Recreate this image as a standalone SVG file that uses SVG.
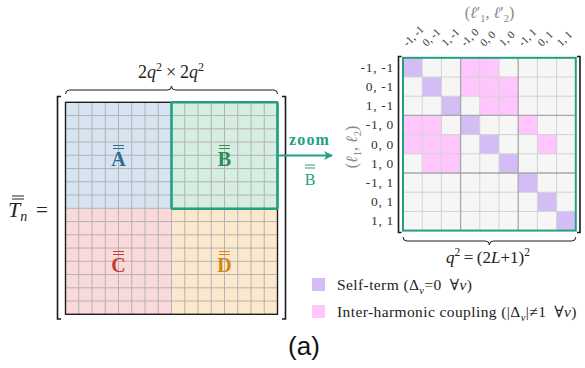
<svg xmlns="http://www.w3.org/2000/svg" width="585" height="368" viewBox="0 0 585 368">
<style>
.serif{font-family:"Liberation Serif","DejaVu Serif",serif;}
.sans{font-family:"Liberation Sans","DejaVu Sans",sans-serif;}
.grid{stroke:#b3b3b3;stroke-width:1;fill:none;}
.rgrid{stroke:#d2d2d2;stroke-width:1;fill:none;}
.rblk{stroke:#a8a8a8;stroke-width:1.3;fill:none;}
.brk{stroke:#1a1a1a;stroke-width:1.6;fill:none;}
.brace{stroke:#1a1a1a;stroke-width:1;fill:none;}
.teal{stroke:#23a084;}
.lbl{font-size:13.5px;fill:#333;letter-spacing:0.7px;}
.clbl{font-size:11px;fill:#333;}
.self{fill:#d4bcf7;}
.inter{fill:#fec6fd;}
.big{font-size:20px;font-weight:bold;}
.leg{font-size:15.5px;fill:#222;letter-spacing:0.4px;}
</style>
<defs>
<marker id="arr" markerWidth="10" markerHeight="10" refX="8" refY="5" orient="auto" markerUnits="userSpaceOnUse">
<path d="M0,0.5 L9,5 L0,9.5 L2.5,5 Z" fill="#23a084"/>
</marker>
</defs>

<!-- T_n = -->
<g id="lhs">
<line x1="12" y1="196" x2="24" y2="196" stroke="#222" stroke-width="1"/>
<line x1="12" y1="199" x2="24" y2="199" stroke="#222" stroke-width="1"/>
<text x="8" y="217" class="serif" font-size="22" font-style="italic" fill="#222">T<tspan dy="4" font-size="14">n</tspan></text>
<text x="36" y="217" class="serif" font-size="21" fill="#222">=</text>
</g>

<!-- left matrix -->
<g id="bigmatrix">
<rect x="65.5" y="102.3" width="106" height="106" fill="#d6e4f1"/>
<rect x="171.5" y="102.3" width="106" height="106" fill="#d6ede1"/>
<rect x="65.5" y="208.3" width="106" height="106" fill="#f9d9d9"/>
<rect x="171.5" y="208.3" width="106" height="106" fill="#fce9cd"/>
<path class="grid" d="M78.75,102.3V314.3M92,102.3V314.3M105.25,102.3V314.3M118.5,102.3V314.3M131.75,102.3V314.3M145,102.3V314.3M158.25,102.3V314.3M171.5,102.3V314.3M184.75,102.3V314.3M198,102.3V314.3M211.25,102.3V314.3M224.5,102.3V314.3M237.75,102.3V314.3M251,102.3V314.3M264.25,102.3V314.3M65.5,115.55H277.5M65.5,128.8H277.5M65.5,142.05H277.5M65.5,155.3H277.5M65.5,168.55H277.5M65.5,181.8H277.5M65.5,195.05H277.5M65.5,208.3H277.5M65.5,221.55H277.5M65.5,234.8H277.5M65.5,248.05H277.5M65.5,261.3H277.5M65.5,274.55H277.5M65.5,287.8H277.5M65.5,301.05H277.5"/>
<rect x="65.5" y="102.3" width="212" height="212" fill="none" stroke="#1e1e1e" stroke-width="1.4"/>
<path class="brk" d="M61,96.5H57.5V319H61M282,96.5H285.5V319H282"/>
<path class="brace" d="M65.5,94 Q65.5,90 69.5,90 L167.5,90 Q171.5,90 171.5,86 Q171.5,90 175.5,90 L273.5,90 Q277.5,90 277.5,94"/>
<text x="171" y="78" text-anchor="middle" class="serif" font-size="18" fill="#222">2<tspan font-style="italic">q</tspan><tspan dy="-7" font-size="12">2</tspan><tspan dy="7" dx="4">×</tspan><tspan dx="4">2</tspan><tspan font-style="italic">q</tspan><tspan dy="-7" font-size="12">2</tspan></text>
</g>

<g id="blockA">
<text x="118.5" y="166" text-anchor="middle" class="serif big" fill="#2d6b98">A</text>
<path d="M113,145.5H124M113,148.5H124" stroke="#2d6b98" stroke-width="1.2"/>
</g>
<g id="blockB">
<text x="224.5" y="166" text-anchor="middle" class="serif big" fill="#2e8b57">B</text>
<path d="M219,145.5H230M219,148.5H230" stroke="#2e8b57" stroke-width="1.2"/>
</g>
<g id="blockC">
<text x="118.5" y="272" text-anchor="middle" class="serif big" fill="#c63a32">C</text>
<path d="M113,251.5H124M113,254.5H124" stroke="#c63a32" stroke-width="1.2"/>
</g>
<g id="blockD">
<text x="224.5" y="272" text-anchor="middle" class="serif big" fill="#d4870f">D</text>
<path d="M219,251.5H230M219,254.5H230" stroke="#d4870f" stroke-width="1.2"/>
</g>

<g id="highlight">
<rect x="171.5" y="102.3" width="106" height="106.5" rx="1.5" fill="none" class="teal" stroke-width="2.6"/>
</g>

<!-- connector -->
<g id="connectors">
<line x1="278.5" y1="155.5" x2="332" y2="155.5" class="teal" stroke-width="2" marker-end="url(#arr)"/>
<text x="309.5" y="145" text-anchor="middle" class="serif" font-size="16" font-weight="bold" letter-spacing="1.2" fill="#23a084">zoom</text>
<text x="310" y="185" text-anchor="middle" class="serif" font-size="16" fill="#23a084">B</text>
<path d="M305,165H315M305,168H315" stroke="#23a084" stroke-width="1.1"/>
</g>

<!-- zoomed matrix -->
<g id="zoommatrix">
<rect x="403" y="57.8" width="172.8" height="172.8" fill="#f6f6f6"/>
<g class="self">
<rect x="403" y="57.8" width="19.2" height="19.2"/>
<rect x="422.2" y="77" width="19.2" height="19.2"/>
<rect x="441.4" y="96.2" width="19.2" height="19.2"/>
<rect x="460.6" y="115.4" width="19.2" height="19.2"/>
<rect x="479.8" y="134.6" width="19.2" height="19.2"/>
<rect x="499" y="153.8" width="19.2" height="19.2"/>
<rect x="518.2" y="173" width="19.2" height="19.2"/>
<rect x="537.4" y="192.2" width="19.2" height="19.2"/>
<rect x="556.6" y="211.4" width="19.2" height="19.2"/>
</g>
<g class="inter">
<rect x="460.6" y="57.8" width="19.2" height="19.2"/>
<rect x="479.8" y="57.8" width="19.2" height="19.2"/>
<rect x="460.6" y="77" width="19.2" height="19.2"/>
<rect x="479.8" y="77" width="19.2" height="19.2"/>
<rect x="499" y="77" width="19.2" height="19.2"/>
<rect x="479.8" y="96.2" width="19.2" height="19.2"/>
<rect x="499" y="96.2" width="19.2" height="19.2"/>
<rect x="403" y="115.4" width="19.2" height="19.2"/>
<rect x="422.2" y="115.4" width="19.2" height="19.2"/>
<rect x="518.2" y="115.4" width="19.2" height="19.2"/>
<rect x="403" y="134.6" width="19.2" height="19.2"/>
<rect x="422.2" y="134.6" width="19.2" height="19.2"/>
<rect x="441.4" y="134.6" width="19.2" height="19.2"/>
<rect x="537.4" y="134.6" width="19.2" height="19.2"/>
<rect x="422.2" y="153.8" width="19.2" height="19.2"/>
<rect x="441.4" y="153.8" width="19.2" height="19.2"/>
</g>
<path class="rgrid" d="M422.2,57.8V230.6M441.4,57.8V230.6M479.8,57.8V230.6M499,57.8V230.6M537.4,57.8V230.6M556.6,57.8V230.6M403,77H575.8M403,96.2H575.8M403,134.6H575.8M403,153.8H575.8M403,192.2H575.8M403,211.4H575.8"/>
<path class="rblk" d="M460.6,57.8V230.6M518.2,57.8V230.6M403,115.4H575.8M403,173H575.8"/>
<rect x="403" y="57.8" width="172.8" height="172.8" fill="none" class="teal" stroke-width="2"/>
<path class="brk" d="M401.5,56.5H398.5V232.5H401.5M577,56.5H580V232.5H577"/>
<path class="brace" d="M403,237 Q403,241 407,241 L485.4,241 Q489.4,241 489.4,245 Q489.4,241 493.4,241 L571.8,241 Q575.8,241 575.8,237"/>
<text x="488" y="263" text-anchor="middle" class="serif" font-size="17" fill="#222"><tspan font-style="italic">q</tspan><tspan dy="-7" font-size="11.5">2</tspan><tspan dy="7" dx="3.5">=</tspan><tspan dx="3.5">(2</tspan><tspan font-style="italic">L</tspan>+1)<tspan dy="-7" font-size="11.5">2</tspan></text>
</g>

<g id="rowlabels" class="serif lbl" text-anchor="end">
<text x="394" y="71.8">-1, -1</text>
<text x="394" y="91">0, -1</text>
<text x="394" y="110.2">1, -1</text>
<text x="394" y="129.4">-1, 0</text>
<text x="394" y="148.6">0, 0</text>
<text x="394" y="167.8">1, 0</text>
<text x="394" y="187">-1, 1</text>
<text x="394" y="206.2">0, 1</text>
<text x="394" y="225.4">1, 1</text>
</g>
<g id="collabels" class="serif clbl">
<text transform="translate(407.6,47) rotate(-45)">-1, -1</text>
<text transform="translate(426.8,47) rotate(-45)">0, -1</text>
<text transform="translate(446,47) rotate(-45)">1, -1</text>
<text transform="translate(465.2,47) rotate(-45)">-1, 0</text>
<text transform="translate(484.4,47) rotate(-45)">0, 0</text>
<text transform="translate(503.6,47) rotate(-45)">1, 0</text>
<text transform="translate(522.8,47) rotate(-45)">-1, 1</text>
<text transform="translate(542,47) rotate(-45)">0, 1</text>
<text transform="translate(561.2,47) rotate(-45)">1, 1</text>
</g>
<text x="489.5" y="18" text-anchor="middle" class="serif" font-size="16" fill="#888">(<tspan font-style="italic">ℓ</tspan>′<tspan dy="3.5" font-size="10.5">1</tspan><tspan dy="-3.5">, </tspan><tspan font-style="italic">ℓ</tspan>′<tspan dy="3.5" font-size="10.5">2</tspan><tspan dy="-3.5">)</tspan></text>
<text transform="translate(357,147) rotate(-90)" text-anchor="middle" class="serif" font-size="16" fill="#888">(<tspan font-style="italic">ℓ</tspan><tspan dy="3.5" font-size="10.5">1</tspan><tspan dy="-3.5">, </tspan><tspan font-style="italic">ℓ</tspan><tspan dy="3.5" font-size="10.5">2</tspan><tspan dy="-3.5">)</tspan></text>

<!-- legend -->
<g id="legend-self">
<rect x="312" y="278" width="13" height="13" class="self"/>
<text x="337" y="290" class="serif leg">Self-term (Δ<tspan dy="3.5" font-size="10.5" font-style="italic">ν</tspan><tspan dy="-3.5">=0</tspan><tspan dx="8">∀</tspan><tspan font-style="italic">ν</tspan>)</text>
</g>
<g id="legend-inter">
<rect x="312" y="305" width="13" height="13" class="inter"/>
<text x="337" y="317" class="serif leg">Inter-harmonic coupling (|Δ<tspan dy="3.5" font-size="10.5" font-style="italic">ν</tspan><tspan dy="-3.5">|≠1</tspan><tspan dx="8">∀</tspan><tspan font-style="italic">ν</tspan>)</text>
</g>
<text x="304" y="355" text-anchor="middle" class="sans" font-size="26" fill="#111">(a)</text>
</svg>
